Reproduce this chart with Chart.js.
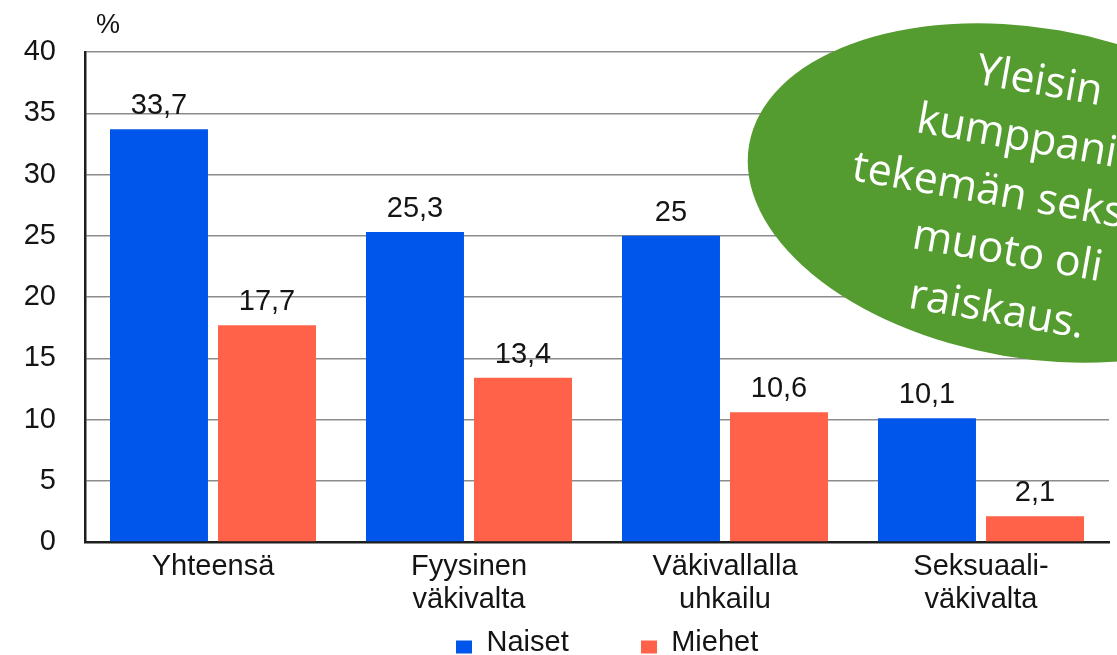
<!DOCTYPE html>
<html>
<head>
<meta charset="utf-8">
<script src="https://cdn.jsdelivr.net/npm/chart.js@4.4.1/dist/chart.umd.min.js"></script>
<style>
  html, body { margin: 0; padding: 0; background: #ffffff; }
  #wrap { width: 1117px; height: 655px; position: relative; overflow: hidden; }
  canvas { display: block; }
</style>
</head>
<body>
<div id="wrap"><canvas id="chart" width="1117" height="655"></canvas></div>
<script>
// ---- data ----
const categories = [['Yhteensä'], ['Fyysinen', 'väkivalta'], ['Väkivallalla', 'uhkailu'], ['Seksuaali-', 'väkivalta']];
const seriesNames = ['Naiset', 'Miehet'];
const naiset = [33.7, 25.3, 25, 10.1];
const miehet = [17.7, 13.4, 10.6, 2.1];
const yMin = 0;
const yMax = 40;
const yStep = 5;
const unitLabel = '%';
const calloutLines = ['Yleisin', 'kumppanin', 'tekemän seksuaali-', 'muoto oli', 'raiskaus.'];

// ---- styles ----
const colors = ['#0055ea', '#ff6249'];
const FONT = '"Liberation Sans", Arial, Helvetica, sans-serif';
const TXT = '#141414';

function legendMarker(color) {
  const c = document.createElement('canvas');
  c.width = 16; c.height = 26;
  const g = c.getContext('2d');
  g.fillStyle = color;
  g.fillRect(0, 11, 16, 13);
  return c;
}
const markers = colors.map(legendMarker);

function fmt(v) { return String(v).replace('.', ','); }

const valueLabels = {
  id: 'valueLabels',
  afterDatasetsDraw(chart) {
    const ctx = chart.ctx;
    ctx.save();
    ctx.font = '29px ' + FONT;
    ctx.fillStyle = TXT;
    ctx.textAlign = 'center';
    ctx.textBaseline = 'alphabetic';
    chart.data.datasets.forEach((ds, di) => {
      const meta = chart.getDatasetMeta(di);
      meta.data.forEach((bar, i) => {
        ctx.fillText(fmt(ds.data[i]), bar.x, bar.y - 15);
      });
    });
    ctx.restore();
  }
};

const unitPlugin = {
  id: 'unitPlugin',
  afterDraw(chart) {
    const ctx = chart.ctx;
    ctx.save();
    ctx.font = '27px ' + FONT;
    ctx.fillStyle = TXT;
    ctx.textAlign = 'left';
    ctx.textBaseline = 'alphabetic';
    ctx.fillText(unitLabel, chart.chartArea.left + 11, 33);
    ctx.restore();
  }
};

const legendPlace = {
  id: 'legendPlace',
  afterLayout(chart) {
    const lg = chart.legend;
    if (!lg || !lg.lineWidths) return;
    const pad = lg.options.labels.padding;
    const lw = lg.lineWidths[0];
    const W = lg.right - lg.left;
    const startX = 456;       // left edge of first legend marker
    const itemTop = 628;      // top of legend item row
    const left = (2 * startX - pad + lw - W) / 2;
    lg.left = left;
    lg.right = left + W;
    lg.top = itemTop - pad;
    lg.bottom = chart.height;
    lg.height = lg.bottom - lg.top;
  }
};

const callout = {
  id: 'callout',
  afterDraw(chart) {
    const ctx = chart.ctx;
    ctx.save();
    ctx.beginPath();
    ctx.ellipse(1031, 193, 286, 165, 9.7 * Math.PI / 180, 0, Math.PI * 2);
    ctx.fillStyle = '#559c30';
    ctx.fill();
    ctx.translate(980, 200);
    ctx.rotate(10 * Math.PI / 180);
    ctx.fillStyle = '#ffffff';
    ctx.font = '400 43px "Open Sans", "Noto Sans", sans-serif';
    ctx.textAlign = 'left';
    ctx.textBaseline = 'alphabetic';
    const xs = [-26, -76, -131, -60, -53];
    const ys = [-114, -56, 2.5, 59, 118.5];
    calloutLines.forEach((t, i) => ctx.fillText(t, xs[i], ys[i]));
    ctx.restore();
  }
};

Chart.defaults.font.family = FONT;
Chart.defaults.color = TXT;

new Chart(document.getElementById('chart'), {
  type: 'bar',
  data: {
    labels: categories,
    datasets: [
      { label: seriesNames[0], data: naiset, backgroundColor: colors[0] },
      { label: seriesNames[1], data: miehet, backgroundColor: colors[1] }
    ]
  },
  options: {
    responsive: false,
    animation: false,
    devicePixelRatio: 1,
    categoryPercentage: 0.844,
    barPercentage: 0.907,
    layout: { padding: { top: 52, right: 8, left: 0, bottom: 0 } },
    plugins: {
      tooltip: { enabled: false },
      title: { display: false },
      legend: {
        position: 'bottom',
        maxHeight: 38,
        labels: {
          font: { size: 29, family: FONT },
          color: TXT,
          padding: 72,
          boxWidth: 16,
          boxHeight: 13,
          usePointStyle: true,
          pointStyleWidth: 16,
          generateLabels(chart) {
            const items = Chart.defaults.plugins.legend.labels.generateLabels(chart);
            return items.map((it, i) => Object.assign(it, { pointStyle: markers[i], lineWidth: 0 }));
          }
        }
      }
    },
    scales: {
      x: {
        grid: { display: false, drawTicks: false },
        border: { display: true, color: '#1e1e1e', width: 2.5 },
        ticks: { font: { size: 29, family: FONT, lineHeight: 1.15 }, color: TXT, padding: 8, autoSkip: false, maxRotation: 0 },
        afterFit(scale) { scale.height = 75; }
      },
      y: {
        min: yMin,
        max: yMax,
        ticks: { stepSize: yStep, font: { size: 29, family: FONT }, color: TXT, padding: 29 },
        grid: { color: '#8c8c8c', lineWidth: 1.5, drawTicks: false },
        border: { display: true, color: '#1e1e1e', width: 2.5 },
        afterFit(scale) { scale.width = 85; }
      }
    }
  },
  plugins: [valueLabels, unitPlugin, legendPlace, callout]
});
</script>
</body>
</html>
